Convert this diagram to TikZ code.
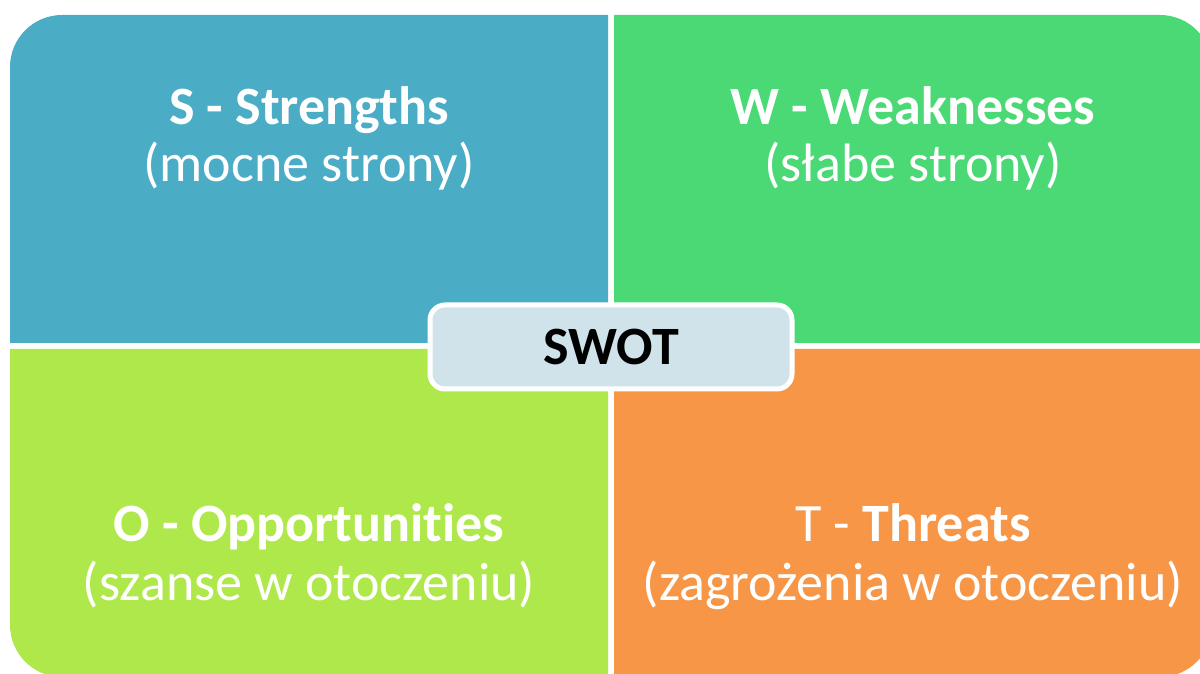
\documentclass[tikz,border=0pt]{standalone}
\usepackage{fontspec}
\setmainfont[RawFeature={-liga;-dlig;-clig}]{Carlito}
\definecolor{qblue}{HTML}{4BACC6}
\definecolor{qgreen}{HTML}{4AD974}
\definecolor{qlime}{HTML}{AFE84A}
\definecolor{qorange}{HTML}{F79646}
\definecolor{qcenter}{HTML}{D0E3EA}
\tikzset{
  title/.style={anchor=base, text=white, inner sep=0pt, font=\fontsize{54}{60}\selectfont\bfseries},
  subtitle/.style={anchor=base, text=white, inner sep=0pt, font=\fontsize{54}{60}\selectfont},
  centerbox/.style={draw=white, line width=5pt, fill=qcenter, rounded corners=15pt,
    minimum width=362pt, minimum height=84pt, inner sep=0pt,
    font=\fontsize{54}{60}\selectfont\bfseries, text=black}
}
\begin{document}
\begin{tikzpicture}[x=1pt,y=1pt]
\useasboundingbox (0,0) rectangle (1200,673);
\clip (0,0) rectangle (1200,673);
% quadrants
\fill[qblue] (608,330) -- (10,330) -- (10,606) arc[start angle=180,end angle=90,radius=52] -- (608,658) -- cycle;
\fill[qgreen] (614,330) -- (614,658) -- (1160,658) arc[start angle=90,end angle=0,radius=52] -- (1212,330) -- cycle;
\fill[qlime] (608,324) -- (608,-4) -- (62,-4) arc[start angle=270,end angle=180,radius=52] -- (10,324) -- cycle;
\fill[qorange] (614,324) -- (1212,324) -- (1212,48) arc[start angle=0,end angle=-90,radius=52] -- (614,-4) -- cycle;
% texts
\node[title] (st) at (309,548) {S - Strengths};
\node[subtitle] (ss) at (309,491) {(mocne strony)};
\node[title] (wt) at (913,548) {W - Weaknesses};
\node[subtitle] (ws) at (913,491) {(słabe strony)};
\node[title] (ot) at (309,132) {O - Opportunities};
\node[subtitle] (os) at (309,73) {(szanse w otoczeniu)};
\node[title] (tt) at (913,132) {\mdseries T - \bfseries Threats};
\node[subtitle] (ts) at (913,73) {(zagrożenia w otoczeniu)};
% center
\node[centerbox] (swot) at (611,326) {SWOT};
\end{tikzpicture}
\end{document}
